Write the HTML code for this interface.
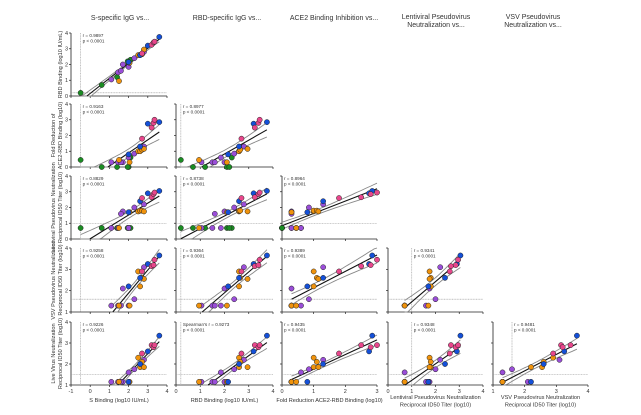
<!DOCTYPE html>
<html><head><meta charset="utf-8"><style>
html,body{margin:0;padding:0;background:#fff;}
svg{display:block;font-family:"Liberation Sans",sans-serif;}
</style></head><body>
<svg id="chart" width="641" height="415" viewBox="0 0 641 415" xmlns="http://www.w3.org/2000/svg">
<g fill="#333" font-size="7" text-anchor="middle">
<text x="120" y="20">S-specific IgG vs...</text>
<text x="227" y="20">RBD-specific IgG vs...</text>
<text x="334" y="20">ACE2 Binding Inhibition vs...</text>
<text x="436" y="19">Lentiviral Pseudovirus</text>
<text x="436" y="27">Neutralization vs...</text>
<text x="533" y="19">VSV Pseudovirus</text>
<text x="533" y="27">Neutralization vs...</text>
</g>
<g id="panels"></g>
</svg>
<script>
// Subjects: colour group and values (log10) for each assay
const groups = ['g','g','g','g','g','g','p','p','p','p','p','p','p','o','o','o','o','o','o','b','b','b','b','k','k','k','k'];
const sBinding   = [-0.5,0.6,1.4,2.0,2.1,1.95, 1.1,1.45,1.7,2.3,2.8,1.6,2.0, 2.5,2.6,2.7,2.8,2.05,1.5, 2.0,2.6,3.0,3.6, 2.7,3.2,3.3,3.35];
const rbdBinding = [0.2,0.7,1.2,2.1,2.3,2.2, 1.05,1.5,2.0,2.4,2.8,1.6,1.85, 2.6,2.6,2.65,2.95,2.1,0.95, 2.15,2.6,3.2,3.75, 2.7,3.25,3.4,3.45];
const ace2Fold   = [0.45,0,0,0,0.6,0, 0.3,0.3,0.3,0.85,1.3,0.3,0.6, 1.0,1.0,1.1,1.15,0.3,0.45, 0.8,1.3,2.75,2.85, 1.8,2.5,2.8,3.0];
const lentiTiter = [0.7,0.7,0.7,0.7,0.7,0.7, 0.7,0.7,1.75,2.0,2.2,1.6,0.7, 1.75,1.8,1.8,1.75,1.7,0.7, 1.7,2.4,2.9,3.05, 2.6,2.65,2.85,2.95];
const vsvTiter   = [null,null,null,null,null,null, 1.3,1.3,2.1,1.6,3.1,1.3,1.3, 2.9,2.2,2.6,2.55,1.3,1.3, 2.2,2.6,3.25,3.65, 2.9,3.15,3.2,3.45];
const liveTiter  = [null,null,null,null,null,null, 1.15,1.15,1.15,1.75,2.2,1.15,1.6, 2.3,1.85,2.1,1.85,1.15,1.15, 1.15,2.0,2.6,3.35, 2.5,2.9,2.8,2.9];
const rValues = [["r = 0.9897"],["r = 0.9163","r = 0.8977"],["r = 0.8829","r = 0.8738","r = 0.8964"],["r = 0.9258","r = 0.9364","r = 0.9389","r = 0.9341"],["r = 0.9226","Spearman's r = 0.9273","r = 0.9435","r = 0.9348","r = 0.9481"]];
const vars = [sBinding, rbdBinding, ace2Fold, lentiTiter, vsvTiter, liveTiter];
const xDomains = [[-1,4],[0,4],[0,3],[0,4],[1,4]];
const yDomains = [null,[0,4],[0,4],[0,4],[1,4],[1,4]];
const xLod = [-0.5,0.2,null,1.0,1.6];
const yLod = [null,0.2,null,1.0,1.6,1.5];
const colPx = [[71,167],[176,273],[282,377],[388,483],[493,588]];
const rowPx = [null,[33,96],[104,167],[176,239],[248,312],[322,385]];
const colors = {g:'#1a8c22',p:'#9a4ed8',o:'#f0930c',b:'#1450d8',k:'#e8478c'};
const yTitles = [null,["RBD Binding (log10 IU/mL)"],["Fold Reduction of","ACE2-RBD Binding (log10)"],["Lentiviral Pseudovirus Neutralization","Reciprocal ID50 Titer (log10)"],["VSV Pseudovirus Neutralization","Reciprocal ID50 Titer (log10)"],["Live Virus Neutralization","Reciprocal ID50 Titer (log10)"]];
const xTitles = [["S Binding (log10 IU/mL)"],["RBD Binding (log10 IU/mL)"],["Fold Reduction ACE2-RBD Binding (log10)"],["Lentiviral Pseudovirus Neutralization","Reciprocal ID50 Titer (log10)"],["VSV Pseudovirus Neutralization","Reciprocal ID50 Titer (log10)"]];

const NS='http://www.w3.org/2000/svg';
const root=document.getElementById('panels');
function mk(tag,attrs,parent){const e=document.createElementNS(NS,tag);for(const k in attrs)e.setAttribute(k,attrs[k]);parent.appendChild(e);return e;}

for(let r=1;r<=5;r++){
  for(let c=0;c<r;c++){
    const xd=xDomains[c], yd=yDomains[r], xp=colPx[c], yp=rowPx[r];
    const sx=v=>xp[0]+(v-xd[0])/(xd[1]-xd[0])*(xp[1]-xp[0]);
    const sy=v=>yp[1]-(v-yd[0])/(yd[1]-yd[0])*(yp[1]-yp[0]);
    const g=mk('g',{},root);
    
    
    const ax=mk('path',{d:`M${xp[0]},${yp[0]}V${yp[1]}H${xp[1]}`,stroke:'#222','stroke-width':0.8,fill:'none'},g);
    
    
    for(let t=Math.ceil(yd[0]);t<=yd[1];t++){
      mk('line',{x1:xp[0]-2,x2:xp[0],y1:sy(t),y2:sy(t),stroke:'#222','stroke-width':0.7},g);
      if(c===0){const tl=mk('text',{x:xp[0]-3,y:sy(t)+1.8,'font-size':5.5,'text-anchor':'end',fill:'#333'},g);tl.textContent=t;
        
        }
    }
    for(let t=Math.ceil(xd[0]);t<=xd[1];t++){
      mk('line',{x1:sx(t),x2:sx(t),y1:yp[1],y2:yp[1]+2,stroke:'#222','stroke-width':0.7},g);
      if(r===5){const tl=mk('text',{x:sx(t),y:yp[1]+8,'font-size':5.5,'text-anchor':'middle',fill:'#333'},g);tl.textContent=t;
        
        }
    }
    if(xLod[c]!==null) mk('line',{x1:sx(xLod[c]),x2:sx(xLod[c]),y1:yp[0],y2:yp[1],stroke:'#999','stroke-width':0.6,'stroke-dasharray':'1,0.6'},g);
    if(yLod[r]!==null) mk('line',{x1:xp[0],x2:xp[1],y1:sy(yLod[r]),y2:sy(yLod[r]),stroke:'#999','stroke-width':0.6,'stroke-dasharray':'1,0.6'},g);
    const xs=[],ys=[],cs=[];
    for(let i=0;i<groups.length;i++){const a=vars[c][i],b=vars[r][i];if(a!==null&&b!==null){xs.push(a);ys.push(b);cs.push(colors[groups[i]]);}}
    const n=xs.length, mx=xs.reduce((s,v)=>s+v,0)/n, my=ys.reduce((s,v)=>s+v,0)/n;
    let sxx=0,sxy=0;for(let i=0;i<n;i++){sxx+=(xs[i]-mx)**2;sxy+=(xs[i]-mx)*(ys[i]-my);}
    const b1=sxy/sxx,b0=my-b1*mx;
    let sse=0;for(let i=0;i<n;i++)sse+=(ys[i]-b0-b1*xs[i])**2;
    const se=Math.sqrt(sse/(n-2)), tq=2.06;
    const x0=Math.min(...xs), x1=Math.max(...xs);
    const clip=v=>Math.max(yd[0],Math.min(yd[1],v));
    let up='',lo='';
    for(let k=0;k<=30;k++){const x=x0+(x1-x0)*k/30,yh=b0+b1*x,w=tq*se*Math.sqrt(1/n+(x-mx)**2/sxx);
      up+=(k?'L':'M')+sx(x).toFixed(1)+','+sy(clip(yh+w)).toFixed(1);
      lo+=(k?'L':'M')+sx(x).toFixed(1)+','+sy(clip(yh-w)).toFixed(1);}
    const xa=Math.max(x0,(yd[0]-b0)/b1);
    const mid=`M${sx(xa).toFixed(1)},${sy(b0+b1*xa).toFixed(1)}L${sx(x1).toFixed(1)},${sy(clip(b0+b1*x1)).toFixed(1)}`;
    const cu=mk('path',{d:up,stroke:'#888','stroke-width':0.9,fill:'none'},g);
    
    
    const cl=mk('path',{d:lo,stroke:'#888','stroke-width':0.9,fill:'none'},g);
    
    
    const rl=mk('path',{d:mid,stroke:'#111','stroke-width':1.1,fill:'none'},g);
    
    
    for(let i=0;i<n;i++){
      const p=mk('circle',{cx:sx(xs[i]),cy:sy(ys[i]),r:2.6,fill:cs[i],stroke:'#222','stroke-width':0.5},g);
      
      
    }
    const tx=(xLod[c]!==null&&c!==2?sx(xLod[c]):xp[0])+2;
    const t1=mk('text',{x:tx,y:yp[0]+4,'font-size':4.6,fill:'#333'},g);t1.textContent=rValues[r-1][c];
    
    
    const t2=mk('text',{x:tx,y:yp[0]+9.5,'font-size':4.6,fill:'#333'},g);t2.textContent='p < 0.0001';
    
    
    if(c===0){const L=yTitles[r];const cy=(yp[0]+yp[1])/2;
      L.forEach((s,j)=>{const xx=L.length===1?62:55+j*7;
        const t=mk('text',{x:xx,y:cy,'font-size':5.6,'text-anchor':'middle',fill:'#333',transform:`rotate(-90 ${xx} ${cy})`},g);t.textContent=s;
        
        });}
    if(r===5){const L=xTitles[c];const cx=(xp[0]+xp[1])/2;
      L.forEach((s,j)=>{const t=mk('text',{x:cx,y:L.length===1?402:399+j*7.5,'font-size':5.6,'text-anchor':'middle',fill:'#333'},g);t.textContent=s;
        
        });}
  }
}
</script>
</body></html>
